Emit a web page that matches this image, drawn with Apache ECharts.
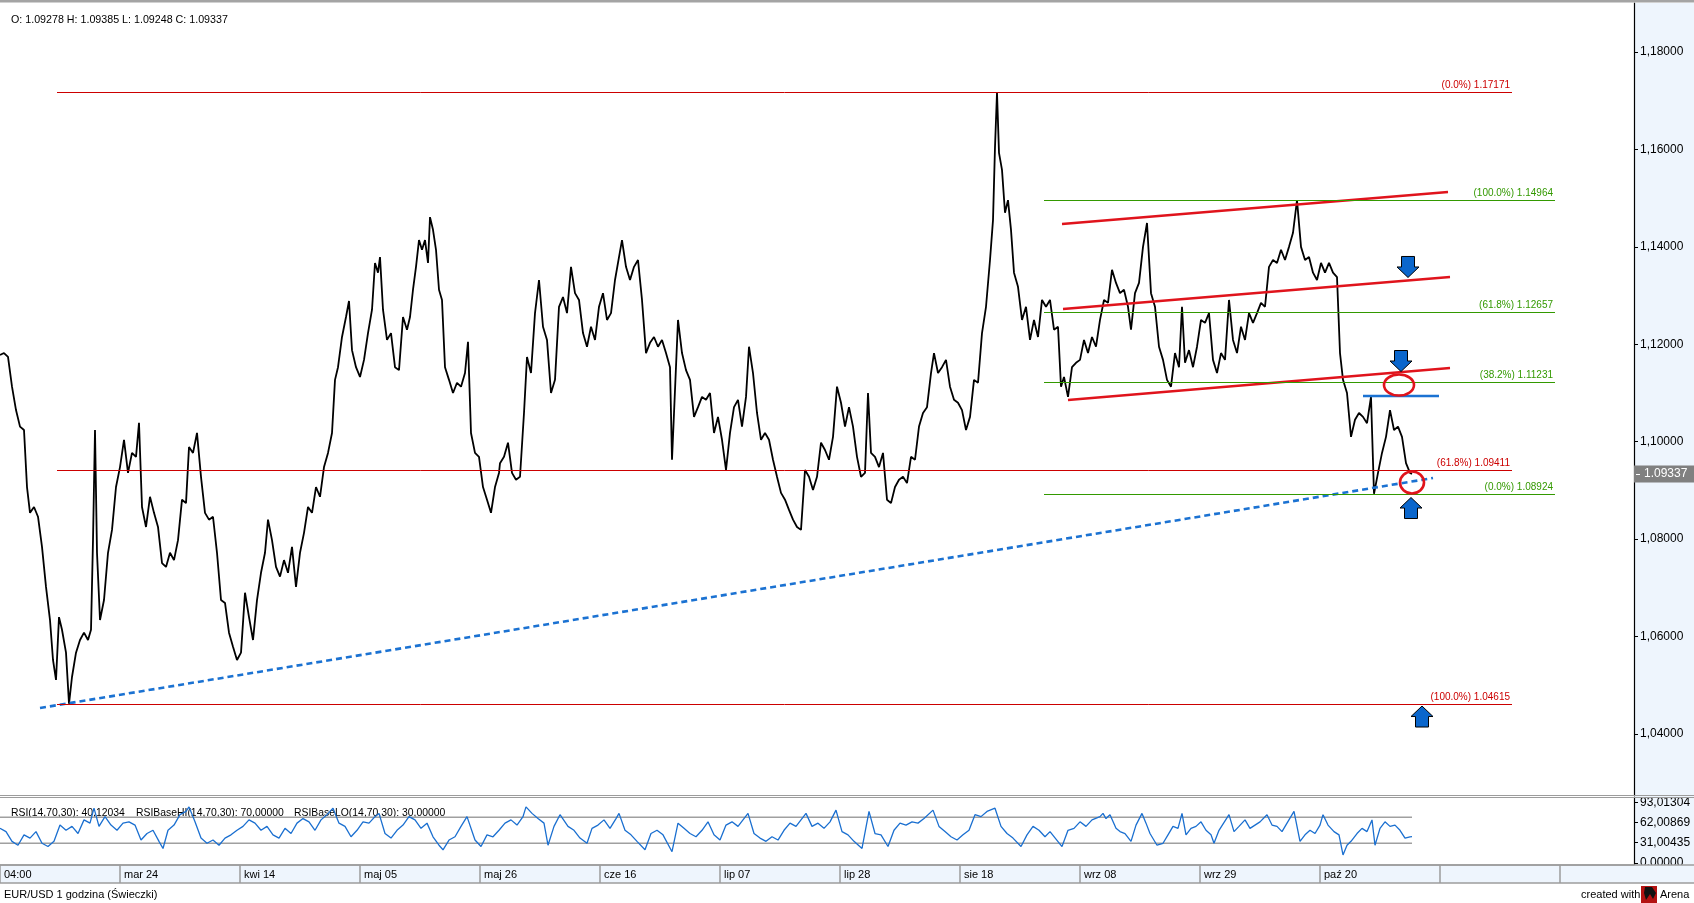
<!DOCTYPE html>
<html><head><meta charset="utf-8">
<script src="https://cdn.jsdelivr.net/npm/echarts@6/dist/echarts.min.js"></script>
<style>html,body{margin:0;padding:0;background:#fff}#c{width:1694px;height:903px}</style>
</head><body><div id="c"></div>
<script>
// ---------- DATA ----------
const ohlcNames = ['O', 'H', 'L', 'C'];
const ohlcValues = [1.09278, 1.09385, 1.09248, 1.09337];

// hourly bar index, close (EUR/USD, 1h)
const eurusd = [
[0,1.1178],[12,1.1182],[24,1.1174],[36,1.1113],[48,1.1065],[60,1.1031],[72,1.1024],[81,1.0907],[90,1.0854],[102,1.0866],
[114,1.0846],[126,1.0784],[138,1.0702],[150,1.0634],[159,1.0552],[168,1.0511],[177,1.0640],[186,1.0614],[198,1.0567],[207,1.0462],
[216,1.0517],[228,1.0567],[240,1.0593],[252,1.0608],[264,1.0593],[273,1.0614],[279,1.0798],[285,1.1024],[291,1.0772],[300,1.0634],
[312,1.0675],[324,1.0772],[336,1.0819],[348,1.0907],[360,1.0948],[372,1.1004],[384,1.0936],[396,1.0977],[408,1.0969],[417,1.1039],
[426,1.0866],[438,1.0825],[450,1.0887],[462,1.0854],[474,1.0825],[486,1.0751],[498,1.0743],[510,1.0772],[522,1.0757],[534,1.0798],
[546,1.0881],[558,1.0874],[567,1.0989],[579,1.0977],[591,1.1018],[603,1.0928],[615,1.0854],[627,1.0840],[639,1.0846],[651,1.0772],
[663,1.0675],[675,1.0669],[687,1.0608],[699,1.0579],[711,1.0552],[723,1.0567],[735,1.0690],[747,1.0640],[759,1.0593],[771,1.0675],
[783,1.0731],[795,1.0772],[804,1.0840],[816,1.0798],[828,1.0743],[840,1.0723],[852,1.0757],[864,1.0731],[876,1.0784],[888,1.0702],
[900,1.0772],[912,1.0813],[924,1.0866],[936,1.0854],[948,1.0907],[960,1.0887],[972,1.0948],[984,1.0977],[996,1.1018],[1005,1.1127],
[1014,1.1153],[1026,1.1215],[1038,1.1256],[1047,1.1289],[1056,1.1188],[1068,1.1153],[1080,1.1133],[1092,1.1168],[1104,1.1223],[1116,1.1271],
[1125,1.1367],[1134,1.1347],[1140,1.1379],[1149,1.1271],[1161,1.1209],[1173,1.1223],[1185,1.1153],[1197,1.1147],[1209,1.1256],[1221,1.1230],
[1230,1.1256],[1239,1.1312],[1248,1.1359],[1257,1.1414],[1266,1.1394],[1275,1.1414],[1284,1.1367],[1290,1.1461],[1299,1.1435],[1308,1.1394],
[1317,1.1312],[1326,1.1291],[1335,1.1153],[1347,1.1127],[1359,1.1100],[1371,1.1121],[1383,1.1113],[1395,1.1141],[1404,1.1205],[1413,1.1018],
[1425,1.0977],[1437,1.0969],[1449,1.0907],[1461,1.0881],[1473,1.0854],[1485,1.0907],[1497,1.0936],
[1500,1.0956],[1512,1.0969],[1524,1.0998],[1536,1.0936],[1548,1.0922],[1560,1.0928],[1572,1.1059],[1581,1.1174],[1593,1.1141],[1605,1.1264],
[1617,1.1332],[1629,1.1236],[1641,1.1209],[1653,1.1100],[1665,1.1127],[1677,1.1277],[1689,1.1297],[1701,1.1264],[1713,1.1359],[1725,1.1305],
[1737,1.1291],[1749,1.1223],[1761,1.1195],[1773,1.1236],[1785,1.1209],[1797,1.1277],[1809,1.1305],[1821,1.1250],[1833,1.1264],[1845,1.1332],
[1857,1.1379],[1866,1.1414],[1878,1.1359],[1890,1.1332],[1902,1.1359],[1914,1.1373],[1926,1.1291],[1938,1.1182],[1950,1.1203],[1962,1.1215],
[1974,1.1195],[1986,1.1209],[1998,1.1182],[2010,1.1153],[2016,1.0963],[2025,1.1106],[2034,1.1250],[2046,1.1182],[2058,1.1147],[2070,1.1127],
[2082,1.1051],[2094,1.1071],[2106,1.1092],[2118,1.1086],[2130,1.1100],[2142,1.1018],[2154,1.1051],[2166,1.1004],[2178,1.0942],[2190,1.1018],
[2202,1.1071],[2214,1.1086],[2226,1.1031],[2238,1.1092],[2247,1.1195],[2259,1.1141],[2271,1.1059],[2283,1.1004],[2295,1.1018],[2307,1.1004],
[2319,1.0963],[2331,1.0928],[2343,1.0895],[2355,1.0881],[2367,1.0860],[2379,1.0840],[2391,1.0825],[2403,1.0819],[2415,1.0942],[2427,1.0928],
[2439,1.0901],[2451,1.0928],[2463,1.0998],[2475,1.0983],[2487,1.0963],[2499,1.1010],[2511,1.1113],[2523,1.1080],[2535,1.1031],[2547,1.1071],
[2559,1.1031],[2571,1.0969],[2583,1.0928],[2595,1.0936],[2604,1.1100],[2613,1.0977],[2625,1.0969],[2637,1.0948],[2649,1.0977],[2661,1.0881],
[2673,1.0874],[2685,1.0907],[2697,1.0922],[2709,1.0928],[2721,1.0915],[2733,1.0969],[2745,1.0963],[2757,1.1031],[2769,1.1059],[2781,1.1071],
[2793,1.1141],[2802,1.1182],[2814,1.1141],[2826,1.1153],[2838,1.1168],[2850,1.1113],[2862,1.1086],[2874,1.1080],[2886,1.1065],[2898,1.1024],
[2910,1.1051],[2922,1.1127],[2934,1.1121],[2946,1.1223],[2958,1.1277],[2970,1.1373],[2979,1.1455],[2985,1.1605],[2991,1.1717],[2997,1.1593],
[3006,1.1558],[3015,1.1470],[3024,1.1496],[3033,1.1435],[3042,1.1347],[3054,1.1318],[3066,1.1250],[3078,1.1277],[3090,1.1209],[3102,1.1250],
[3114,1.1215],[3126,1.1291],[3138,1.1277],[3150,1.1291],[3162,1.1230],[3174,1.1236],[3183,1.1113],[3192,1.1133],[3204,1.1092],[3216,1.1153],
[3228,1.1162],[3240,1.1168],[3252,1.1209],[3264,1.1182],[3276,1.1215],[3288,1.1195],[3300,1.1250],[3312,1.1291],[3324,1.1285],[3336,1.1353],
[3348,1.1326],[3360,1.1305],[3372,1.1312],[3384,1.1277],[3393,1.1230],[3405,1.1305],[3417,1.1326],[3429,1.1400],[3441,1.1449],[3453,1.1305],
[3465,1.1277],[3477,1.1195],[3489,1.1168],[3501,1.1127],[3513,1.1113],[3525,1.1182],[3537,1.1153],[3546,1.1277],[3555,1.1162],[3567,1.1188],
[3579,1.1153],[3591,1.1195],[3603,1.1250],[3615,1.1244],[3627,1.1264],[3639,1.1168],[3651,1.1141],[3663,1.1182],[3675,1.1168],[3687,1.1291],
[3699,1.1209],[3711,1.1182],[3723,1.1236],[3735,1.1209],[3747,1.1264],[3759,1.1244],[3771,1.1264],[3783,1.1285],[3795,1.1277],[3807,1.1359],
[3819,1.1373],[3831,1.1367],[3843,1.1394],[3855,1.1373],[3867,1.1400],[3879,1.1429],[3891,1.1496],[3903,1.1400],[3915,1.1373],[3927,1.1379],
[3939,1.1347],[3951,1.1332],[3963,1.1367],[3975,1.1347],[3987,1.1367],[3999,1.1347],[4011,1.1338],[4020,1.1182],[4029,1.1127],[4041,1.1100],
[4053,1.1010],[4065,1.1045],[4077,1.1059],[4089,1.1051],[4101,1.1038],[4113,1.1092],[4122,1.0893],[4134,1.0936],[4146,1.0977],[4158,1.1010],
[4170,1.1065],[4182,1.1024],[4194,1.1031],[4206,1.1010],[4218,1.0956],[4230,1.0936],[4236,1.0934]
];

// RSI(14): bar index, value
const rsi = [
[0,53],[18,48],[36,33],[54,27],[72,43],[90,38],[108,48],[126,30],[144,25],[162,33],[180,58],[198,50],[216,56],[234,45],[252,66],[270,61],
[282,84],[297,56],[315,71],[333,58],[351,50],[369,61],[387,63],[405,58],[423,35],[441,45],[459,50],[477,33],[489,22],[504,50],[522,58],
[540,74],[558,79],[567,86],[585,63],[603,38],[621,30],[639,35],[657,27],[675,38],[693,43],[711,50],[729,56],[747,66],[765,61],[783,50],
[801,56],[819,43],[837,38],[855,53],[873,45],[891,61],[909,68],[927,63],[945,50],[963,66],[981,74],[999,84],[1017,61],[1035,56],[1053,40],
[1071,50],[1089,63],[1107,61],[1125,71],[1137,76],[1155,45],[1173,38],[1191,50],[1209,58],[1227,71],[1245,66],[1263,53],[1281,61],[1299,40],
[1317,27],[1329,20],[1347,35],[1365,40],[1383,56],[1401,71],[1407,74],[1425,35],[1443,25],[1461,43],[1479,40],[1497,50],[1515,61],[1533,66],
[1551,58],[1569,71],[1578,86],[1596,76],[1614,68],[1632,61],[1644,27],[1662,56],[1680,74],
[1686,76],[1704,56],[1722,50],[1740,38],[1761,30],[1776,53],[1794,58],[1812,66],[1830,53],[1848,68],[1857,76],[1875,50],[1893,43],[1911,33],
[1935,20],[1953,45],[1971,50],[1989,43],[2016,17],[2034,61],[2052,53],[2070,45],[2088,40],[2106,50],[2124,63],[2142,43],[2160,35],[2178,58],
[2196,63],[2214,56],[2244,76],[2262,45],[2280,38],[2298,33],[2316,40],[2334,35],[2352,50],[2370,61],[2388,56],[2418,76],[2436,56],[2454,61],
[2472,53],[2490,63],[2508,81],[2526,48],[2544,43],[2562,33],[2586,22],[2607,79],[2625,45],[2643,43],[2664,25],[2682,50],[2700,61],[2718,58],
[2736,63],[2754,61],[2772,68],[2799,81],[2817,56],[2835,48],[2853,40],[2871,35],[2889,43],[2907,50],[2925,74],[2943,71],[2961,79],[2985,84],
[3003,56],[3021,45],[3039,38],[3063,25],[3081,43],[3099,56],[3117,50],[3135,40],[3150,48],[3186,25],[3204,50],[3222,53],[3240,63],[3258,56],
[3276,66],[3300,71],[3309,76],
[3318,68],[3330,74],[3348,53],[3360,48],[3375,45],[3393,33],[3408,58],[3426,76],[3438,61],[3450,45],[3471,27],[3489,30],[3504,43],[3519,56],
[3534,53],[3546,76],[3558,43],[3573,53],[3588,56],[3603,63],[3618,50],[3633,43],[3642,30],[3657,50],[3687,74],[3702,48],[3717,56],[3735,66],
[3750,53],[3765,58],[3780,63],[3801,74],[3816,58],[3831,56],[3846,48],[3861,61],[3882,79],[3900,33],[3915,43],[3930,50],[3945,45],[3960,58],
[3969,74],[3984,58],[4002,48],[4017,43],[4029,12],[4041,27],[4053,33],[4071,45],[4086,53],[4101,48],[4116,66],[4125,27],[4140,53],[4155,63],
[4170,56],[4185,58],[4200,50],[4215,38],[4230,40],[4236,40.12034]
];
const rsiHi = 70, rsiLo = 30;

const priceTicks = [1.04, 1.06, 1.08, 1.10, 1.12, 1.14, 1.16, 1.18];
const rsiTicks = [0, 31.00435, 62.00869, 93.01304];
const timeLabels = ['04:00','mar 24','kwi 14','maj 05','maj 26','cze 16','lip 07','lip 28','sie 18','wrz 08','wrz 29','paź 20','',''];
const BARS_PER_LABEL = 360;   // 3 weeks of hourly bars

// Fibonacci levels
const redFibPct = ['0.0', '61.8', '100.0'];
const redFibVal = [1.17171, 1.09411, 1.04615];
const redFibSpan = [171, 4536];
const greenFibPct = ['100.0', '61.8', '38.2', '0.0'];
const greenFibVal = [1.14964, 1.12657, 1.11231, 1.08924];
const greenFibSpan = [3132, 4665];

// channel lines: startBar, startPrice, endBar, endPrice
const channels = [[3186,1.14469,4344,1.15126],[3189,1.12724,4350,1.13381],[3204,1.10856,4350,1.11513]];
const trendLine = [[120,1.04534],[4299,1.09255]];
const resistLine = [[4089,1.10938],[4317,1.10938]];
const circles = [[4197,1.11164],[4236,1.09163]];
const arrows = [[4224,1.13587,-1],[4203,1.11657,-1],[4233,1.08639,1],[4266,1.04359,1]];

// ---------- STYLE ----------
const FONT = "'Liberation Sans', Arial, sans-serif";
const X_MAX = 4902;
const RED = '#cc0000', GREEN = '#339900', CH_RED = '#e0141c', BLUE = '#1b72d2';
const CIRCLE_SIZES = [[15, 10.5], [12, 11]];
const PANEL_BG = '#eef5fd', GRAYLINE = '#9c9c9c';

const chart = echarts.init(document.getElementById('c'), null, {renderer: 'canvas', width: 1694, height: 903});

function fibLines(pcts, vals, span, color) {
  return vals.map((v, i) => [
    {coord: [span[0], v], lineStyle: {color: color, width: 1, type: 'solid'},
     label: {show: true, position: 'insideEndTop', distance: 2, formatter: '(' + pcts[i] + '%) ' + v.toFixed(5),
             color: color, fontSize: 10, fontFamily: FONT}},
    {coord: [span[1], v]}
  ]);
}

const lastClose = ohlcValues[3];
const lastBar = eurusd[eurusd.length - 1][0];
const tickBars = timeLabels.map((_, i) => i * BARS_PER_LABEL);
const labelBars = timeLabels.map((t, i) => i * BARS_PER_LABEL).filter((_, i) => timeLabels[i] !== '');
const rsiEnd = rsi[rsi.length - 1][0];
const lastRsi = rsi[rsi.length - 1][1];

const series = [
  {
    type: 'line', xAxisIndex: 0, yAxisIndex: 0, data: eurusd, symbol: 'none', z: 3,
    lineStyle: {color: '#000', width: 1.8},
    markLine: {
      silent: true, symbol: ['none', 'none'], animation: false,
      data: fibLines(redFibPct, redFibVal, redFibSpan, RED)
        .concat(fibLines(greenFibPct, greenFibVal, greenFibSpan, GREEN))
    }
  }
];
channels.forEach(c => series.push({
  type: 'line', xAxisIndex: 0, yAxisIndex: 0, data: [[c[0], c[1]], [c[2], c[3]]], symbol: 'none', z: 4,
  lineStyle: {color: CH_RED, width: 2.6}
}));
series.push({type: 'line', xAxisIndex: 0, yAxisIndex: 0, data: trendLine, symbol: 'none', z: 4,
  lineStyle: {color: BLUE, width: 2.6, type: [6, 4]}});
series.push({type: 'line', xAxisIndex: 0, yAxisIndex: 0, data: resistLine, symbol: 'none', z: 4,
  lineStyle: {color: BLUE, width: 2.6}});
series.push({
  type: 'custom', xAxisIndex: 0, yAxisIndex: 0, data: circles, encode: {x: 0, y: 1}, z: 6, clip: false,
  renderItem: (params, api) => {
    const p = api.coord([api.value(0), api.value(1)]);
    const s = CIRCLE_SIZES[params.dataIndex];
    return {type: 'ellipse', shape: {cx: p[0], cy: p[1], rx: s[0], ry: s[1]},
      style: {fill: 'none', stroke: CH_RED, lineWidth: 2.6}};
  }
});
series.push({
  type: 'custom', xAxisIndex: 0, yAxisIndex: 0, data: arrows, encode: {x: 0, y: 1}, z: 7, clip: false,
  renderItem: (params, api) => {
    const p = api.coord([api.value(0), api.value(1)]);
    const d = api.value(2); // 1 = up, -1 = down
    const hw = 11, sw = 6.5, h = 10.5;
    const pts = [[-sw, -h], [sw, -h], [sw, 0], [hw, 0], [0, h], [-hw, 0], [-sw, 0]]
      .map(q => [p[0] + q[0], p[1] - d * q[1]]);
    return {type: 'polygon', shape: {points: pts}, style: {fill: '#0a66cc', stroke: '#000', lineWidth: 1}};
  }
});
// current price box on the price axis
series.push({
  type: 'custom', xAxisIndex: 0, yAxisIndex: 0, data: [[lastBar, lastClose]], encode: {x: 0, y: 1}, z: 12, clip: false,
  renderItem: (params, api) => {
    const p = api.coord([api.value(0), api.value(1)]);
    const cs = params.coordSys;
    const x0 = cs.x + cs.width;
    return {type: 'group', children: [
      {type: 'rect', shape: {x: x0, y: Math.round(p[1]) - 8.5, width: 60, height: 17}, style: {fill: '#808080'}},
      {type: 'line', shape: {x1: x0 + 2, y1: Math.round(p[1]) + 0.5, x2: x0 + 6, y2: Math.round(p[1]) + 0.5}, style: {stroke: '#fff', lineWidth: 1}},
      {type: 'text', x: x0 + 10, y: Math.round(p[1]), style: {text: api.value(1).toFixed(5), fill: '#fff', fontSize: 12,
        fontFamily: FONT, verticalAlign: 'middle', align: 'left'}}
    ]};
  }
});
series.push({type: 'line', xAxisIndex: 1, yAxisIndex: 1, data: rsi, symbol: 'none', z: 4,
  lineStyle: {color: '#1a6fd0', width: 1.3}});
series.push({type: 'line', xAxisIndex: 1, yAxisIndex: 1, data: [[0, rsiHi], [rsiEnd, rsiHi]], symbol: 'none', z: 3,
  lineStyle: {color: '#a0a0a0', width: 1.5}});
series.push({type: 'line', xAxisIndex: 1, yAxisIndex: 1, data: [[0, rsiLo], [rsiEnd, rsiLo]], symbol: 'none', z: 3,
  lineStyle: {color: '#a0a0a0', width: 1.5}});

const fmtComma = v => v.toFixed(5).replace('.', ',');
const txt = (x, y, text, size, color, extra) => Object.assign({
  type: 'text', x: x, y: y, z: 8,
  style: {text: text, fontSize: size, fontFamily: FONT, fill: color || '#000', verticalAlign: 'middle', align: 'left'}
}, extra || {});

const option = {
  animation: false,
  backgroundColor: '#fff',
  grid: [
    {left: 0, right: 60, top: 3, height: 792},
    {left: 0, right: 60, top: 797, height: 68}
  ],
  xAxis: [
    {gridIndex: 0, type: 'value', min: 0, max: X_MAX, show: false},
    {gridIndex: 1, type: 'value', min: 0, max: X_MAX, position: 'bottom', z: 10,
      axisLine: {show: true, onZero: false, lineStyle: {color: GRAYLINE, width: 1.5}},
      axisTick: {show: true, customValues: tickBars, length: 18, lineStyle: {color: GRAYLINE, width: 1.5}},
      axisLabel: {show: true, customValues: labelBars, formatter: v => timeLabels[Math.round(v / BARS_PER_LABEL)],
        align: 'left', margin: 4, padding: [0, 0, 0, 4], color: '#000', fontSize: 11, fontFamily: FONT},
      splitLine: {show: false}}
  ],
  yAxis: [
    {gridIndex: 0, type: 'value', position: 'right', min: 1.02748, max: 1.19006,
      axisLine: {show: true, onZero: false, lineStyle: {color: '#000', width: 1.2}},
      axisTick: {show: true, customValues: priceTicks, length: 4, lineStyle: {color: '#000'}},
      axisLabel: {customValues: priceTicks, formatter: fmtComma, color: '#000', fontSize: 12, fontFamily: FONT, margin: 6},
      splitLine: {show: false}},
    {gridIndex: 1, type: 'value', position: 'right', min: -3.4, max: 101.2,
      axisLine: {show: true, onZero: false, lineStyle: {color: '#000', width: 1.2}},
      axisTick: {show: true, customValues: rsiTicks, length: 4, lineStyle: {color: '#000'}},
      axisLabel: {customValues: rsiTicks, formatter: fmtComma, color: '#000', fontSize: 12, fontFamily: FONT, margin: 6},
      splitLine: {show: false}}
  ],
  graphic: {elements: [
    {type: 'rect', z: -10, shape: {x: 1634, y: 3, width: 60, height: 862}, style: {fill: PANEL_BG}},
    {type: 'rect', z: 5, shape: {x: 0, y: 0, width: 1694, height: 2.5}, style: {fill: '#a4a4a4'}},
    {type: 'line', z: 5, shape: {x1: 0, y1: 795.5, x2: 1694, y2: 795.5}, style: {stroke: GRAYLINE, lineWidth: 1.2}},
    {type: 'line', z: 5, shape: {x1: 0, y1: 797.5, x2: 1694, y2: 797.5}, style: {stroke: GRAYLINE, lineWidth: 1.2}},
    {type: 'rect', z: 5, shape: {x: 0, y: 865, width: 1694, height: 18}, style: {fill: PANEL_BG}},
    {type: 'line', z: 5, shape: {x1: 0, y1: 865, x2: 1694, y2: 865}, style: {stroke: GRAYLINE, lineWidth: 1.5}},
    {type: 'line', z: 5, shape: {x1: 0, y1: 883, x2: 1694, y2: 883}, style: {stroke: GRAYLINE, lineWidth: 1.5}},
    txt(11, 20, ohlcNames.map((n, i) => n + ': ' + ohlcValues[i].toFixed(5)).join(' '), 10.7),
    txt(11, 813, 'RSI(14,' + rsiHi + ',' + rsiLo + '): ' + fmtComma(lastRsi), 10.4, '#000', {z: 1}),
    txt(136, 813, 'RSIBaseHI(14,' + rsiHi + ',' + rsiLo + '): ' + fmtComma(rsiHi), 10.4, '#000', {z: 1}),
    txt(294, 813, 'RSIBaseLO(14,' + rsiHi + ',' + rsiLo + '): ' + fmtComma(rsiLo), 10.4, '#000', {z: 1}),
    txt(4, 895, 'EUR/USD 1 godzina (Świeczki)', 11),
    txt(1581, 895, 'created with', 11),
    {type: 'rect', z: 8, shape: {x: 1641, y: 886, width: 16, height: 17}, style: {fill: '#b31212'}},
    {type: 'polygon', z: 9, shape: {points: [[1645, 887], [1652, 887], [1656, 893], [1653, 899], [1650, 894], [1646, 900], [1644, 893]]}, style: {fill: '#111'}},
    txt(1660, 895, 'Arena', 11)
  ]},
  series: series
};
chart.setOption(option);
</script>
</body></html>
